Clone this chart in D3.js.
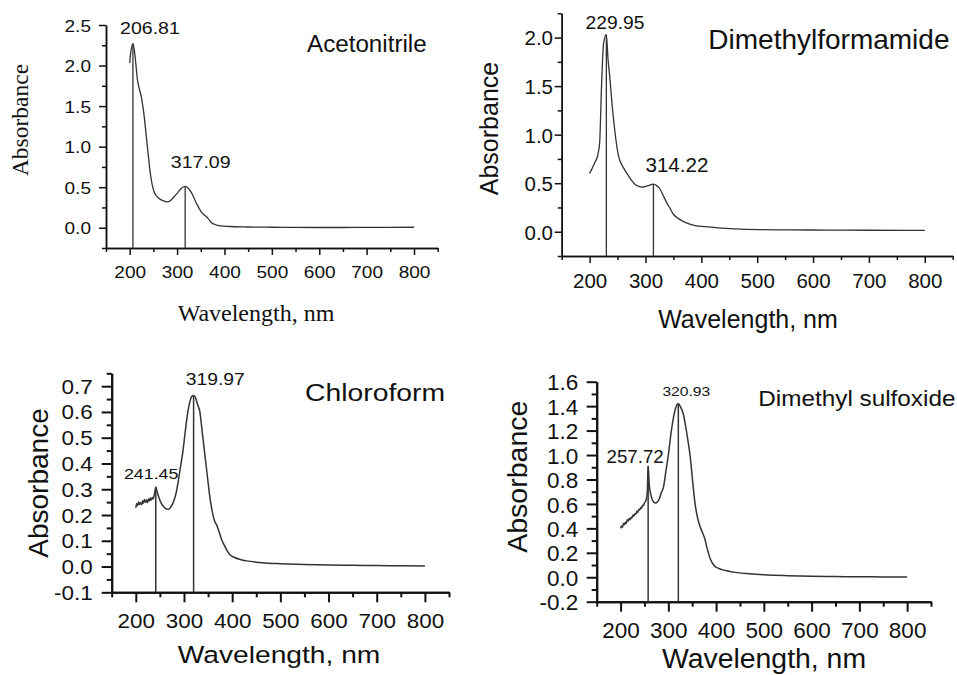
<!DOCTYPE html>
<html><head><meta charset="utf-8">
<script src="https://cdn.jsdelivr.net/npm/d3@7"></script>
<style>html,body{margin:0;padding:0;background:#fff;} svg{display:block;}</style>
</head><body>
<svg id="chart" width="957" height="675"></svg>
<script>
// ---------------- DATA ----------------
const xDomain = [150, 850];
const xMajor = [200, 300, 400, 500, 600, 700, 800];
const xMinor = [150, 250, 350, 450, 550, 650, 750, 850];
const xTitle = "Wavelength, nm";
const yTitle = "Absorbance";

// Acetonitrile
const nameACN = "Acetonitrile";
const yDomainACN = [-0.25, 2.5];
const yTicksACN = [0, 0.5, 1.0, 1.5, 2.0, 2.5];
const yMinorACN = [-0.25, 0.25, 0.75, 1.25, 1.75, 2.25];
const peaksACN = [206.81, 317.09];
const wlACN = [200, 202, 204, 206.81, 210, 213, 216, 220, 225, 230, 237, 244, 251, 257, 262, 270, 279, 287, 294, 301, 308, 317.09, 323, 329, 335, 340, 346, 353, 360, 366, 372, 380, 392, 410, 448, 500, 550, 600, 650, 700, 750, 800];
const absACN = [2.03, 2.15, 2.22, 2.27, 2.18, 2.02, 1.84, 1.72, 1.6, 1.4, 1.02, 0.65, 0.45, 0.39, 0.36, 0.335, 0.318, 0.34, 0.385, 0.43, 0.48, 0.51, 0.49, 0.445, 0.38, 0.31, 0.245, 0.18, 0.145, 0.11, 0.065, 0.04, 0.022, 0.015, 0.009, 0.006, 0.004, 0.003, 0.003, 0.004, 0.005, 0.006];

// Dimethylformamide
const nameDMF = "Dimethylformamide";
const yDomainDMF = [-0.25, 2.25];
const yTicksDMF = [0, 0.5, 1.0, 1.5, 2.0];
const yMinorDMF = [-0.25, 0.25, 0.75, 1.25, 1.75, 2.25];
const peaksDMF = [229.95, 314.22];
const wlDMF = [200, 205, 210, 215, 218, 221, 223, 225, 229.95, 233, 236, 239, 245, 251, 255, 260, 269, 275, 281, 287, 293, 299, 305, 314.22, 320, 326, 332, 338, 344, 350, 358, 365, 378, 389, 407, 430, 460, 506, 560, 626, 700, 800];
const absDMF = [0.60, 0.66, 0.72, 0.80, 0.92, 1.45, 1.75, 1.94, 2.03, 1.77, 1.6, 1.39, 1.045, 0.80, 0.72, 0.665, 0.58, 0.53, 0.49, 0.47, 0.46, 0.465, 0.476, 0.49, 0.475, 0.44, 0.37, 0.30, 0.24, 0.18, 0.14, 0.114, 0.08, 0.062, 0.052, 0.04, 0.03, 0.022, 0.019, 0.017, 0.015, 0.014];

// Chloroform
const nameCF = "Chloroform";
const yDomainCF = [-0.1, 0.75];
const yTicksCF = [-0.1, 0, 0.1, 0.2, 0.3, 0.4, 0.5, 0.6, 0.7];
const yMinorCF = [-0.05, 0.05, 0.15, 0.25, 0.35, 0.45, 0.55, 0.65, 0.75];
const peaksCF = [241.45, 319.97];
const wlCF = [200, 202, 204, 206, 208, 210, 212, 214, 216, 218, 220, 222, 224, 226, 228, 230, 232, 234, 236, 238, 240, 241.45, 244, 248, 253, 258, 263, 268, 273, 278, 283, 288, 293, 298, 303, 308, 313, 316, 319.97, 324, 328, 333, 338, 343, 348, 353, 358, 363, 368, 373, 378, 383, 390, 396, 405, 415, 430, 450, 475, 500, 550, 600, 650, 700, 750, 800];
const absCF = [0.228, 0.245, 0.236, 0.25, 0.242, 0.248, 0.24, 0.255, 0.246, 0.26, 0.25, 0.258, 0.248, 0.262, 0.254, 0.266, 0.258, 0.268, 0.262, 0.275, 0.295, 0.309, 0.292, 0.268, 0.245, 0.232, 0.224, 0.222, 0.232, 0.25, 0.28, 0.33, 0.39, 0.45, 0.53, 0.6, 0.645, 0.66, 0.664, 0.655, 0.63, 0.6, 0.52, 0.44, 0.36, 0.28, 0.22, 0.18, 0.16, 0.135, 0.105, 0.085, 0.06, 0.045, 0.035, 0.028, 0.022, 0.017, 0.013, 0.011, 0.008, 0.006, 0.005, 0.004, 0.003, 0.002];

// Dimethyl sulfoxide
const nameDMSO = "Dimethyl sulfoxide";
const yDomainDMSO = [-0.2, 1.6];
const yTicksDMSO = [-0.2, 0, 0.2, 0.4, 0.6, 0.8, 1.0, 1.2, 1.4, 1.6];
const yMinorDMSO = [-0.1, 0.1, 0.3, 0.5, 0.7, 0.9, 1.1, 1.3, 1.5];
const peaksDMSO = [257.72, 320.93];
const wlDMSO = [200, 202, 204, 206, 208, 210, 212, 214, 216, 218, 220, 222, 224, 226, 228, 230, 232, 234, 236, 238, 240, 242, 244, 246, 248, 250, 252, 254, 256, 257.72, 260, 263, 267, 270, 273.5, 277, 281, 285, 290, 295, 300, 305, 310, 315, 320.93, 326, 331, 336, 341, 346, 351, 356, 361, 366, 371, 376, 381, 388, 395, 405, 420, 440, 470, 500, 550, 600, 650, 700, 750, 800];
const absDMSO = [0.40, 0.42, 0.41, 0.44, 0.43, 0.45, 0.44, 0.47, 0.46, 0.48, 0.47, 0.49, 0.485, 0.51, 0.50, 0.52, 0.515, 0.54, 0.53, 0.555, 0.55, 0.57, 0.565, 0.59, 0.585, 0.61, 0.62, 0.64, 0.70, 0.91, 0.76, 0.68, 0.63, 0.612, 0.607, 0.615, 0.64, 0.69, 0.74, 0.87, 1.0, 1.16, 1.29, 1.38, 1.42, 1.39, 1.34, 1.24, 1.12, 0.98, 0.78, 0.6, 0.49, 0.42, 0.37, 0.32, 0.24, 0.15, 0.1, 0.072, 0.055, 0.04, 0.028, 0.02, 0.013, 0.009, 0.006, 0.004, 0.003, 0.002];

// ---------------- LAYOUT ----------------
const SANS = "'Liberation Sans', Arial, Helvetica, sans-serif";
const SERIF = "'Liberation Serif', 'Times New Roman', serif";

const panels = [
  { name: nameACN, wl: wlACN, abs: absACN, peaks: peaksACN, yDomain: yDomainACN, yMajor: yTicksACN, yMinor: yMinorACN,
    L: { left: 106, right: 437.7, top: 25, bottom: 248, majorLen: 7, minorLen: 4, axisW: 1.5, lineW: 1.3,
         tickFont: 17, tickSx: 1.12, yLabelRight: 91, xLabelBase: 30,
         yT: { font: SERIF, size: 23.5, sx: 1, x: 28, y: 120 },
         xT: { font: SERIF, size: 24, sx: 1, x: 256, y: 320.7 },
         nm: { size: 23.5, sx: 1.03, x: 307, y: 52 },
         pk: [{ size: 17, sx: 1.15, dx: 17, dy: -10 }, { size: 17, sx: 1.15, dx: 15.5, dy: -18.5 }] } },
  { name: nameDMF, wl: wlDMF, abs: absDMF, peaks: peaksDMF, yDomain: yDomainDMF, yMajor: yTicksDMF, yMinor: yMinorDMF,
    L: { left: 561.7, right: 952.7, top: 13.3, bottom: 256, majorLen: 7, minorLen: 4, axisW: 1.5, lineW: 1.3,
         tickFont: 20.5, tickSx: 1, yLabelRight: 553, xLabelBase: 32.3,
         yT: { font: SANS, size: 25, sx: 1, x: 498, y: 128.5 },
         xT: { font: SANS, size: 25, sx: 1, x: 748, y: 328 },
         nm: { size: 28, sx: 1, x: 708.3, y: 49 },
         pk: [{ size: 18.5, sx: 1.04, dx: 8.6, dy: -5.5 }, { size: 20, sx: 1.03, dx: 23.5, dy: -12 }] } },
  { name: nameCF, wl: wlCF, abs: absCF, peaks: peaksCF, yDomain: yDomainCF, yMajor: yTicksCF, yMinor: yMinorCF,
    L: { left: 111.7, right: 449, top: 373.3, bottom: 592.3, majorLen: 10, minorLen: 5, axisW: 2, lineW: 1.5,
         tickFont: 19.5, tickSx: 1.15, yLabelRight: 92.7, xLabelBase: 36,
         yT: { font: SANS, size: 28, sx: 1, x: 48, y: 483 },
         xT: { font: SANS, size: 23.5, sx: 1.2, x: 279, y: 663.3 },
         nm: { size: 24, sx: 1.18, x: 305, y: 400.7 },
         pk: [{ size: 15.5, sx: 1.15, dx: -4.6, dy: -8 }, { size: 16.5, sx: 1.17, dx: 21.6, dy: -10 }] } },
  { name: nameDMSO, wl: wlDMSO, abs: absDMSO, peaks: peaksDMSO, yDomain: yDomainDMSO, yMajor: yTicksDMSO, yMinor: yMinorDMSO,
    L: { left: 596.7, right: 931, top: 381.7, bottom: 601.7, majorLen: 10, minorLen: 5, axisW: 2, lineW: 1.5,
         tickFont: 22.5, tickSx: 1, yLabelRight: 578.3, xLabelBase: 36,
         yT: { font: SANS, size: 28.5, sx: 1, x: 526.7, y: 476.7 },
         xT: { font: SANS, size: 28.4, sx: 1, x: 764, y: 668 },
         nm: { size: 21.5, sx: 1.13, x: 758.3, y: 406 },
         pk: [{ size: 18.7, sx: 1, dx: -13, dy: -2.6 }, { size: 13.5, sx: 1.16, dx: 8, dy: -8 }] } }
];

const svg = d3.select("#chart");
const INK = "#111";
const CURVE = "#333";

function addText(g, str, x, y, o) {
  return g.append("text")
    .attr("transform", `translate(${x},${y})${o.rotate ? " rotate(" + o.rotate + ")" : ""} scale(${o.sx || 1},1)`)
    .attr("text-anchor", o.anchor || "start")
    .attr("font-family", o.font || SANS)
    .attr("font-size", o.size)
    .attr("fill", INK)
    .text(str);
}

function styleAxis(sel, L) {
  sel.select(".domain").attr("stroke", INK).attr("stroke-width", L.axisW);
  sel.selectAll(".tick line").attr("stroke", INK).attr("stroke-width", L.axisW);
}

function drawPanel(p) {
  const L = p.L;
  const g = svg.append("g");
  const x = d3.scaleLinear().domain(xDomain).range([L.left, L.right]);
  const y = d3.scaleLinear().domain(p.yDomain).range([L.bottom, L.top]);

  // minor ticks
  g.append("g").attr("transform", `translate(0,${L.bottom})`)
    .call(d3.axisBottom(x).tickValues(xMinor).tickSize(L.minorLen).tickSizeOuter(0).tickFormat(""))
    .call(s => styleAxis(s, L));
  g.append("g").attr("transform", `translate(${L.left},0)`)
    .call(d3.axisLeft(y).tickValues(p.yMinor).tickSize(L.minorLen).tickSizeOuter(0).tickFormat(""))
    .call(s => styleAxis(s, L));

  // major ticks + labels
  const xa = g.append("g").attr("transform", `translate(0,${L.bottom})`)
    .call(d3.axisBottom(x).tickValues(xMajor).tickSize(L.majorLen).tickSizeOuter(0).tickFormat(d => String(d)))
    .call(s => styleAxis(s, L));
  xa.selectAll("text")
    .attr("y", L.xLabelBase).attr("dy", null)
    .attr("transform", `scale(${L.tickSx},1)`)
    .attr("font-family", SANS).attr("font-size", L.tickFont).attr("fill", INK);

  const ya = g.append("g").attr("transform", `translate(${L.left},0)`)
    .call(d3.axisLeft(y).tickValues(p.yMajor).tickSize(L.majorLen).tickSizeOuter(0).tickFormat(d => d.toFixed(1)))
    .call(s => styleAxis(s, L));
  ya.selectAll("text")
    .attr("x", -(L.left - L.yLabelRight) / L.tickSx).attr("dy", "0.36em")
    .attr("transform", `scale(${L.tickSx},1)`)
    .attr("font-family", SANS).attr("font-size", L.tickFont).attr("fill", INK);

  // spectrum
  const pts = p.wl.map((w, i) => [w, p.abs[i]]);
  g.append("path").datum(pts)
    .attr("fill", "none").attr("stroke", CURVE).attr("stroke-width", L.lineW)
    .attr("stroke-linejoin", "round")
    .attr("d", d3.line().x(d => x(d[0])).y(d => y(d[1])).curve(d3.curveMonotoneX));

  // peak drop lines and labels
  p.peaks.forEach((pk, k) => {
    const i = p.wl.indexOf(pk);
    const v = p.abs[i];
    g.append("line")
      .attr("x1", x(pk)).attr("x2", x(pk))
      .attr("y1", y(v)).attr("y2", L.bottom)
      .attr("stroke", CURVE).attr("stroke-width", L.lineW);
    const o = L.pk[k];
    addText(g, pk.toFixed(2), x(pk) + o.dx, y(v) + o.dy, { size: o.size, sx: o.sx, anchor: "middle" });
  });

  // titles
  addText(g, yTitle, L.yT.x, L.yT.y, { font: L.yT.font, size: L.yT.size, sx: L.yT.sx, anchor: "middle", rotate: -90 });
  addText(g, xTitle, L.xT.x, L.xT.y, { font: L.xT.font, size: L.xT.size, sx: L.xT.sx, anchor: "middle" });
  addText(g, p.name, L.nm.x, L.nm.y, { size: L.nm.size, sx: L.nm.sx, anchor: "start" });
}

panels.forEach(drawPanel);
</script>
</body></html>
